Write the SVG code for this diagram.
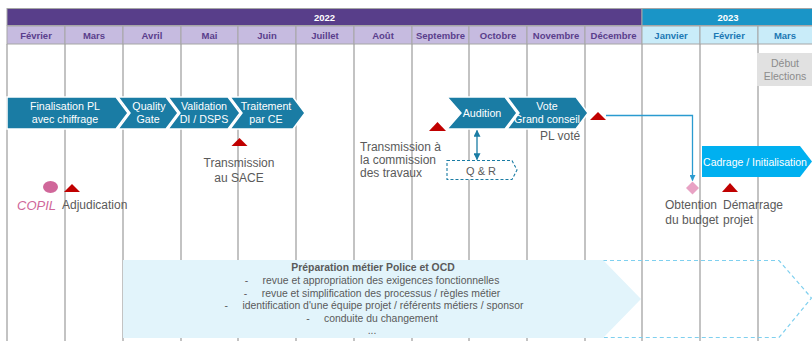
<svg xmlns="http://www.w3.org/2000/svg" width="812" height="341" viewBox="0 0 812 341">
  <style>
    text { font-family: "Liberation Sans", Arial, sans-serif; }
    .grid { stroke: #a3a3a3; stroke-width: 1.3; }
    .yr22 { fill: #583e8a; stroke: #a6a6a6; stroke-width: 1; }
    .yr23 { fill: #1a95c7; stroke: #a6a6a6; stroke-width: 1; }
    .yrt { fill: #ffffff; font-size: 9.5px; font-weight: bold; text-anchor: middle; }
    .m22 { fill: #c6bbe0; stroke: #a6a6a6; stroke-width: 1; }
    .m23 { fill: #c9ecf9; stroke: #a6a6a6; stroke-width: 1; }
    .m22t { fill: #5a3e8c; font-size: 9.5px; font-weight: bold; text-anchor: middle; }
    .m23t { fill: #1b78b4; font-size: 9.5px; font-weight: bold; text-anchor: middle; }
    .chev { fill: #1a7ca4; stroke: #ffffff; stroke-width: 1.5; }
    .chevt { fill: #ffffff; font-size: 10.7px; text-anchor: middle; }
    .lbl { fill: #5a5a5a; font-size: 12px; }
    .tri { fill: #c00000; }
    .conn { fill: none; stroke: #2a9bd0; stroke-width: 1.3; }
    .conn2 { fill: none; stroke: #1a7ca4; stroke-width: 1.3; }
    .body { fill: #5a5a5a; font-size: 10.4px; text-anchor: middle; }
  </style>
  <defs>
    <marker id="arrowBlue" viewBox="0 0 10 10" refX="9" refY="5" markerWidth="6" markerHeight="6" orient="auto-start-reverse" markerUnits="userSpaceOnUse">
      <path d="M0,0 L10,5 L0,10 z" fill="#2a9bd0"/>
    </marker>
    <marker id="arrowTeal" viewBox="0 0 10 10" refX="9" refY="5" markerWidth="7" markerHeight="7" orient="auto-start-reverse" markerUnits="userSpaceOnUse">
      <path d="M0,0 L10,5 L0,10 z" fill="#1a7ca4"/>
    </marker>
  </defs>

  <rect x="0" y="0" width="812" height="341" fill="#ffffff"/>

  <!-- month grid lines -->
  <g id="grid">
    <line class="grid" x1="7" y1="44" x2="7" y2="341"/>
    <line class="grid" x1="65" y1="44" x2="65" y2="341"/>
    <line class="grid" x1="123" y1="44" x2="123" y2="341"/>
    <line class="grid" x1="181" y1="44" x2="181" y2="341"/>
    <line class="grid" x1="238" y1="44" x2="238" y2="341"/>
    <line class="grid" x1="296" y1="44" x2="296" y2="341"/>
    <line class="grid" x1="354" y1="44" x2="354" y2="341"/>
    <line class="grid" x1="412" y1="44" x2="412" y2="341"/>
    <line class="grid" x1="469" y1="44" x2="469" y2="341"/>
    <line class="grid" x1="527" y1="44" x2="527" y2="341"/>
    <line class="grid" x1="585" y1="44" x2="585" y2="341"/>
    <line class="grid" x1="642" y1="44" x2="642" y2="341"/>
    <line class="grid" x1="700" y1="44" x2="700" y2="341"/>
    <line class="grid" x1="758" y1="44" x2="758" y2="341"/>
  </g>

  <!-- timeline header -->
  <g id="header">
    <rect class="yr22" x="7" y="8.5" width="635" height="17"/>
    <rect class="yr23" x="642" y="8.5" width="172" height="17"/>
    <text class="yrt" x="324.5" y="20.5">2022</text>
    <text class="yrt" x="728" y="20.5">2023</text>
    <rect class="m22" x="7" y="26" width="58" height="18"/>
    <rect class="m22" x="65" y="26" width="58" height="18"/>
    <rect class="m22" x="123" y="26" width="58" height="18"/>
    <rect class="m22" x="181" y="26" width="57" height="18"/>
    <rect class="m22" x="238" y="26" width="58" height="18"/>
    <rect class="m22" x="296" y="26" width="58" height="18"/>
    <rect class="m22" x="354" y="26" width="58" height="18"/>
    <rect class="m22" x="412" y="26" width="57" height="18"/>
    <rect class="m22" x="469" y="26" width="58" height="18"/>
    <rect class="m22" x="527" y="26" width="58" height="18"/>
    <rect class="m22" x="585" y="26" width="57" height="18"/>
    <rect class="m23" x="642" y="26" width="58" height="18"/>
    <rect class="m23" x="700" y="26" width="58" height="18"/>
    <rect class="m23" x="758" y="26" width="56" height="18"/>
    <text class="m22t" x="36" y="38.5">Février</text>
    <text class="m22t" x="94" y="38.5">Mars</text>
    <text class="m22t" x="152" y="38.5">Avril</text>
    <text class="m22t" x="209.5" y="38.5">Mai</text>
    <text class="m22t" x="267" y="38.5">Juin</text>
    <text class="m22t" x="325" y="38.5">Juillet</text>
    <text class="m22t" x="383" y="38.5">Août</text>
    <text class="m22t" x="440.5" y="38.5">Septembre</text>
    <text class="m22t" x="498" y="38.5">Octobre</text>
    <text class="m22t" x="556" y="38.5">Novembre</text>
    <text class="m22t" x="613.5" y="38.5">Décembre</text>
    <text class="m23t" x="671" y="38.5">Janvier</text>
    <text class="m23t" x="729" y="38.5">Février</text>
    <text class="m23t" x="785" y="38.5">Mars</text>
  </g>

  <!-- elections marker -->
  <g id="debut-elections">
    <rect x="757" y="53" width="55" height="33" fill="#e1e1e1"/>
    <text x="785" y="67" fill="#8c8c8c" font-size="10.5" text-anchor="middle">Début</text>
    <text x="785" y="80" fill="#8c8c8c" font-size="10.5" text-anchor="middle">Elections</text>
  </g>

  <!-- preparation band: solid part plus dashed continuation -->
  <g id="preparation">
    <path d="M603,260.5 L779,260.5 L811.5,298 L779,337.5 L603,337.5" fill="none" stroke="#7fd0ef" stroke-width="1.2" stroke-dasharray="4,3"/>
    <polygon points="123,260 603,260 641,299 603,338 123,338" fill="#e2f4fb"/>
    <text class="body" x="373" y="271" font-weight="bold" fill="#595959">Préparation métier Police et OCD</text>
    <text class="body" x="372" y="284" xml:space="preserve">-     revue et appropriation des exigences fonctionnelles</text>
    <text class="body" x="372" y="296.5" xml:space="preserve">-     revue et simplification des processus / règles métier</text>
    <text class="body" x="374" y="309" xml:space="preserve">-     identification d'une équipe projet / référents métiers / sponsor</text>
    <text class="body" x="372" y="321.5" xml:space="preserve">-     conduite du changement</text>
    <text class="body" x="372" y="334">...</text>
  </g>

  <!-- phase chevrons -->
  <g id="finalisation-pl">
    <polygon class="chev" points="7,97 116,97 128,113 116,129 7,129"/>
    <text class="chevt" x="65" y="110">Finalisation PL</text>
    <text class="chevt" x="65" y="123">avec chiffrage</text>
  </g>
  <g id="quality-gate">
    <polygon class="chev" points="118,97 166,97 178,113 166,129 118,129 130,113"/>
    <text class="chevt" x="149" y="110">Quality</text>
    <text class="chevt" x="148" y="123">Gate</text>
  </g>
  <g id="validation">
    <polygon class="chev" points="168,97 228,97 240,113 228,129 168,129 180,113"/>
    <text class="chevt" x="204" y="110">Validation</text>
    <text class="chevt" x="204" y="123">DI / DSPS</text>
  </g>
  <g id="traitement">
    <polygon class="chev" points="230,97 293,97 305,113 293,129 230,129 242,113"/>
    <text class="chevt" x="266" y="110">Traitement</text>
    <text class="chevt" x="266" y="123">par CE</text>
  </g>
  <g id="audition">
    <polygon class="chev" points="447,97 505,97 517,113 505,129 447,129 461,113"/>
    <text class="chevt" x="482" y="117">Audition</text>
  </g>
  <g id="vote">
    <polygon class="chev" points="507,97 576,97 588,113 576,129 507,129 519,113"/>
    <text class="chevt" x="547" y="110">Vote</text>
    <text class="chevt" x="547" y="123">Grand conseil</text>
  </g>
  <g id="cadrage">
    <polygon points="702,146 800,146 812,161.5 800,177 702,177" fill="#00b0f0"/>
    <text x="755" y="165.5" fill="#ffffff" font-size="10.5" text-anchor="middle">Cadrage / Initialisation</text>
  </g>

  <!-- Q & R -->
  <g id="q-r">
    <path d="M447,160.5 L512,160.5 L517,170 L512,179.5 L447,179.5 Z" fill="#ffffff" stroke="#1a7ca4" stroke-width="1.1" stroke-dasharray="3,2"/>
    <text x="481" y="174.5" fill="#5a5a5a" font-size="11" text-anchor="middle">Q &amp; R</text>
  </g>

  <!-- milestones -->
  <g id="copil">
    <ellipse cx="50.5" cy="187" rx="7.5" ry="6" fill="#d0679a"/>
    <text x="17" y="210" fill="#d0679a" font-size="13" font-style="italic">COPIL</text>
  </g>
  <g id="adjudication">
    <polygon class="tri" points="64,192 72,184 80,192"/>
    <text class="lbl" x="62" y="209">Adjudication</text>
  </g>
  <g id="transmission-sace">
    <polygon class="tri" points="231.5,146 239.5,138 247.5,146"/>
    <text class="lbl" x="239" y="167" text-anchor="middle">Transmission</text>
    <text class="lbl" x="239" y="182" text-anchor="middle">au SACE</text>
  </g>
  <g id="transmission-commission">
    <polygon class="tri" points="429,131 437.5,122 446,131"/>
    <text class="lbl" x="360" y="151">Transmission à</text>
    <text class="lbl" x="360" y="164">la commission</text>
    <text class="lbl" x="360" y="177">des travaux</text>
  </g>
  <g id="pl-vote">
    <polygon class="tri" points="590,120 598,112 606,120"/>
    <text class="lbl" x="540" y="140">PL voté</text>
  </g>
  <g id="obtention-budget">
    <polygon points="692.5,181.5 699,188 692.5,194.5 686,188" fill="#e8a2c4"/>
    <text class="lbl" x="691" y="209" text-anchor="middle">Obtention</text>
    <text class="lbl" x="692" y="224" text-anchor="middle">du budget</text>
  </g>
  <g id="demarrage-projet">
    <polygon class="tri" points="722,192 730,183 738,192"/>
    <text class="lbl" x="723" y="209">Démarrage</text>
    <text class="lbl" x="723" y="224">projet</text>
  </g>

  <!-- connectors -->
  <g id="connectors">
    <line class="conn2" x1="477" y1="130.5" x2="477" y2="159.5" marker-start="url(#arrowTeal)" marker-end="url(#arrowTeal)"/>
    <polyline class="conn" points="606,115.5 692.5,115.5 692.5,180.5" marker-end="url(#arrowBlue)"/>
  </g>
</svg>
